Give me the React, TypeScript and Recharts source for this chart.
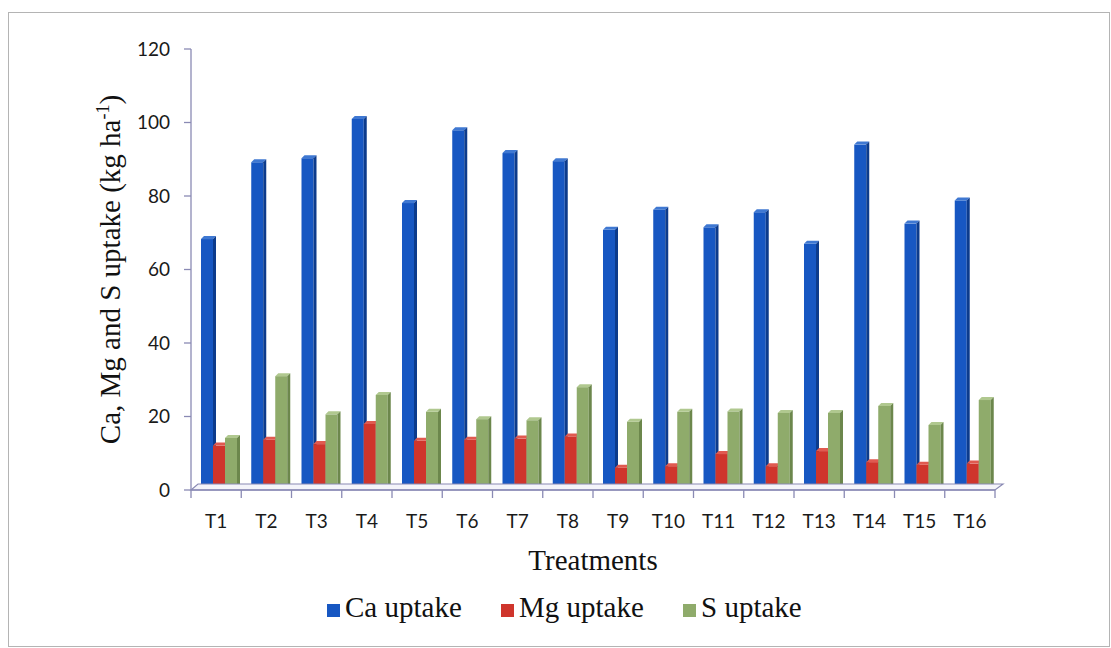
import React from "react";
import { BarChart, Bar, XAxis, YAxis, Legend, ReferenceLine } from "recharts";

// Treatments on the category axis
const treatments = ["T1", "T2", "T3", "T4", "T5", "T6", "T7", "T8", "T9", "T10", "T11", "T12", "T13", "T14", "T15", "T16"];

// Nutrient uptake, kg ha-1
const caUptake = [69.1, 90.0, 91.1, 101.8, 78.9, 98.7, 92.5, 90.3, 71.6, 77.1, 72.3, 76.4, 67.8, 94.8, 73.3, 79.6];
const mgUptake = [12.9, 14.5, 13.3, 18.8, 14.2, 14.5, 14.8, 15.4, 6.9, 7.3, 10.6, 7.3, 11.4, 8.4, 7.7, 8.0];
const sUptake = [15.0, 31.8, 21.4, 26.7, 22.1, 20.1, 19.8, 28.8, 19.4, 22.1, 22.2, 21.8, 21.8, 23.7, 18.5, 25.3];

const yTicks = [0, 20, 40, 60, 80, 100, 120];

const seriesNames = ["Ca uptake", "Mg uptake", "S uptake"];

const data = treatments.map((t, i) => ({
  name: t,
  ca: caUptake[i],
  mg: mgUptake[i],
  s: sUptake[i],
}));

const palette = {
  ca: { front: "#1757c2", side: "#0c3b8c", top: "#3f78d2" },
  mg: { front: "#cf352c", side: "#8f231d", top: "#e05a50" },
  s: { front: "#8fab6b", side: "#6c874c", top: "#b0c88f" },
};

const AXIS_COLOR = "#8a8ab4";
const SANS = "Lato, 'Open Sans', sans-serif";
const SERIF = "'Liberation Serif', 'Times New Roman', serif";

// Column with a front face, a darker right side and a light top face
const makeColumn = (c: { front: string; side: string; top: string }) => (props: any) => {
  const { x, y, width, height } = props;
  if (!height || height <= 0) return <g />;
  const d = 3;
  const x0 = x + 3;
  const w = width;
  return (
    <g>
      <rect x={x0} y={y + d} width={w} height={height - d} fill={c.front} />
      <polygon
        points={`${x0},${y + d} ${x0 + d},${y} ${x0 + w + d},${y} ${x0 + w},${y + d}`}
        fill={c.top}
      />
      <polygon
        points={`${x0 + w},${y + d} ${x0 + w + d},${y} ${x0 + w + d},${y + height - d} ${x0 + w},${y + height}`}
        fill={c.side}
      />
    </g>
  );
};

const CaColumn = makeColumn(palette.ca);
const MgColumn = makeColumn(palette.mg);
const SColumn = makeColumn(palette.s);

// Category tick: boundary marks between treatments, label at the centre
const TreatmentTick = (props: any) => {
  const { x, y, payload, index, visibleTicksCount } = props;
  const half = payload && typeof payload.offset === "number" && payload.offset > 0 ? payload.offset : 25.125;
  const isLast = index === (visibleTicksCount ?? treatments.length) - 1;
  return (
    <g>
      <line x1={x - half} y1={y} x2={x - half} y2={y + 8} stroke={AXIS_COLOR} strokeWidth={1.3} />
      {isLast && <line x1={x + half} y1={y} x2={x + half} y2={y + 8} stroke={AXIS_COLOR} strokeWidth={1.3} />}
      <text x={x} y={y + 38} textAnchor="middle" fontFamily={SANS} fontSize={19} fill="#1a1a1a">
        {payload.value}
      </text>
    </g>
  );
};

// Floor of the plot: a shallow parallelogram behind the category axis
const FloorShape = (props: any) => {
  const { x1, y1, x2 } = props;
  if (x1 == null || y1 == null || x2 == null) return <g />;
  const dx = 7;
  const dy = 6;
  return (
    <g>
      <polygon
        points={`${x1},${y1} ${x1 + dx},${y1 - dy} ${x2 + dx + 1},${y1 - dy} ${x2},${y1}`}
        fill="#f4f4fa"
        stroke={AXIS_COLOR}
        strokeWidth={1.2}
      />
    </g>
  );
};

const YTitle = (props: any) => {
  const { viewBox } = props;
  const cx = viewBox.x - 11;
  const cy = viewBox.y + viewBox.height / 2;
  return (
    <text
      transform={`translate(${cx},${cy}) rotate(-90)`}
      textAnchor="middle"
      fontFamily={SERIF}
      fontSize={29}
      fill="#111"
    >
      Ca, Mg and S uptake (kg ha
      <tspan fontSize={18} dy={-11}>-1</tspan>
      <tspan dy={11}>)</tspan>
    </text>
  );
};

const XTitle = (props: any) => {
  const { viewBox } = props;
  return (
    <text
      x={viewBox.x + viewBox.width / 2}
      y={viewBox.y + 80}
      textAnchor="middle"
      fontFamily={SERIF}
      fontSize={29}
      fill="#111"
    >
      Treatments
    </text>
  );
};

const legendColors = [palette.ca.front, palette.mg.front, palette.s.front];
// left edge of each legend swatch
const legendSlots = [327, 501, 683];

const LegendContent = () => (
  <svg width={1111} height={40} style={{ display: "block" }}>
    {seriesNames.map((name, i) => (
      <g key={name}>
        <rect x={legendSlots[i]} y={14} width={13} height={13} fill={legendColors[i]} />
        <text x={legendSlots[i] + 18} y={27} fontFamily={SERIF} fontSize={29} fill="#111">
          {name}
        </text>
      </g>
    ))}
  </svg>
);

export default function App() {
  return (
    <div style={{ position: "absolute", left: 0, top: 0, width: 1111, height: 648, background: "#ffffff" }}>
      <div
        style={{
          position: "absolute",
          left: 8,
          top: 12,
          width: 1100,
          height: 633,
          border: "1px solid #b4b4b4",
          pointerEvents: "none",
        }}
      />
      <BarChart
        width={1111}
        height={648}
        data={data}
        margin={{ top: 49, right: 116, bottom: 118, left: 131 }}
        barGap={0}
        barCategoryGap={7}
      >
        <ReferenceLine y={0} shape={FloorShape} ifOverflow="extendDomain" />
        <XAxis
          dataKey="name"
          height={40}
          axisLine={{ stroke: AXIS_COLOR, strokeWidth: 1.3 }}
          tickLine={false}
          tickSize={0}
          tickMargin={0}
          interval={0}
          tick={TreatmentTick}
          label={{ content: XTitle }}
        />
        <YAxis
          width={60}
          domain={[0, 120]}
          ticks={yTicks}
          interval={0}
          axisLine={{ stroke: AXIS_COLOR, strokeWidth: 1.3 }}
          tickLine={{ stroke: AXIS_COLOR, strokeWidth: 1.3 }}
          tickSize={7}
          tickMargin={14}
          tick={{ fontFamily: SANS, fontSize: 19, fill: "#1a1a1a" }}
          label={{ content: YTitle }}
        />
        <Legend
          layout="horizontal"
          verticalAlign="middle"
          align="center"
          wrapperStyle={{ top: 590, left: 0, width: 1111 }}
          content={LegendContent}
        />
        <Bar dataKey="ca" name={seriesNames[0]} fill={palette.ca.front} barSize={12} shape={CaColumn} isAnimationActive={false} />
        <Bar dataKey="mg" name={seriesNames[1]} fill={palette.mg.front} barSize={12} shape={MgColumn} isAnimationActive={false} />
        <Bar dataKey="s" name={seriesNames[2]} fill={palette.s.front} barSize={12} shape={SColumn} isAnimationActive={false} />
      </BarChart>
    </div>
  );
}
